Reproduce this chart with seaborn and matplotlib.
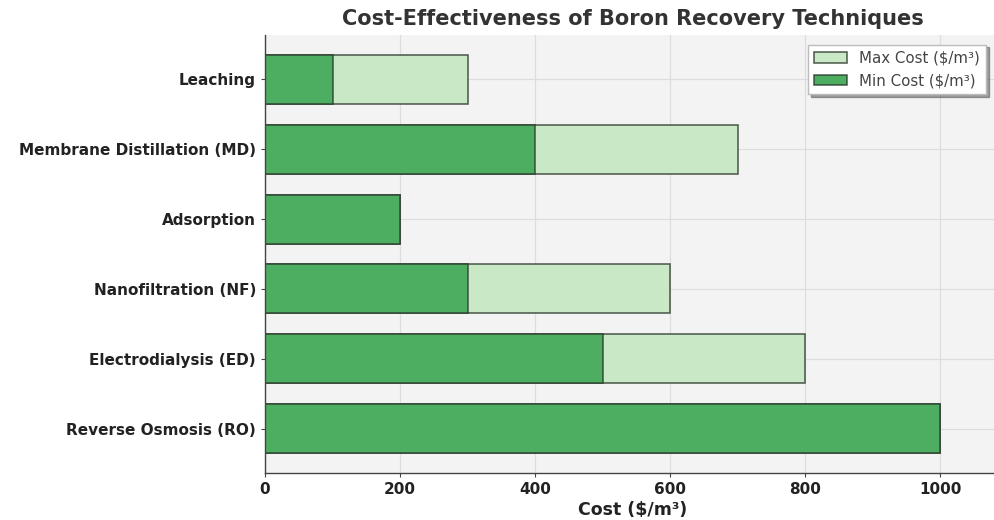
import matplotlib
matplotlib.use("Agg")
import matplotlib.pyplot as plt
import seaborn as sns
import pandas as pd

techniques = [
    "Leaching",
    "Membrane Distillation (MD)",
    "Adsorption",
    "Nanofiltration (NF)",
    "Electrodialysis (ED)",
    "Reverse Osmosis (RO)",
]
min_cost = [100, 400, 200, 300, 500, 1000]
max_cost = [300, 700, 200, 600, 800, 1000]

df = pd.DataFrame({"technique": techniques, "min": min_cost, "max": max_cost})

sns.set_style("ticks")
plt.rcParams["font.family"] = ["DejaVu Sans"]

fig = plt.figure(figsize=(9.94, 5.2), dpi=100)
ax = fig.add_axes([265 / 994, 1 - 473 / 520, 736 / 994, 438 / 520])
ax.set_facecolor("#f3f3f3")

edge = (0.15, 0.2, 0.15, 0.75)
sns.barplot(data=df, x="max", y="technique", orient="h", color="#c8e8c6",
            saturation=1, edgecolor=edge, linewidth=1.2, width=0.7,
            label="Max Cost ($/m\u00b3)", ax=ax)
sns.barplot(data=df, x="min", y="technique", orient="h", color="#4dae62",
            saturation=1, edgecolor=edge, linewidth=1.2, width=0.7,
            label="Min Cost ($/m\u00b3)", ax=ax)

pad = 0.35 + 0.05 * (len(techniques) - 1 + 0.7)
ax.set_ylim(len(techniques) - 1 + pad, -pad)
ax.set_xlim(0, 1090)
ax.set_xticks([0, 200, 400, 600, 800, 1000])
ax.grid(True, color="#dddddd", linewidth=0.9)
ax.set_axisbelow(True)

for side in ("top", "right"):
    ax.spines[side].set_visible(False)
for side in ("left", "bottom"):
    ax.spines[side].set_color("#444444")
    ax.spines[side].set_linewidth(1.0)

ax.tick_params(axis="both", colors="#444444", labelcolor="#222222",
               labelsize=11, length=3)
for lbl in ax.get_xticklabels() + ax.get_yticklabels():
    lbl.set_fontweight("bold")

ax.set_ylabel("")
ax.set_xlabel("Cost ($/m\u00b3)", fontsize=12.5, fontweight="bold",
              color="#222222", labelpad=3)
ax.set_title("Cost-Effectiveness of Boron Recovery Techniques",
             fontsize=15, fontweight="bold", color="#333333", pad=7)

leg = ax.legend(loc="upper right", bbox_to_anchor=(0.99, 0.995),
                frameon=True, shadow=True, fontsize=10.8, fancybox=False,
                handlelength=2.2)
for t in leg.get_texts():
    t.set_color("#444444")
leg.get_frame().set_edgecolor("#bbbbbb")
leg.get_frame().set_facecolor("white")

fig.savefig("out.png", dpi=100)
